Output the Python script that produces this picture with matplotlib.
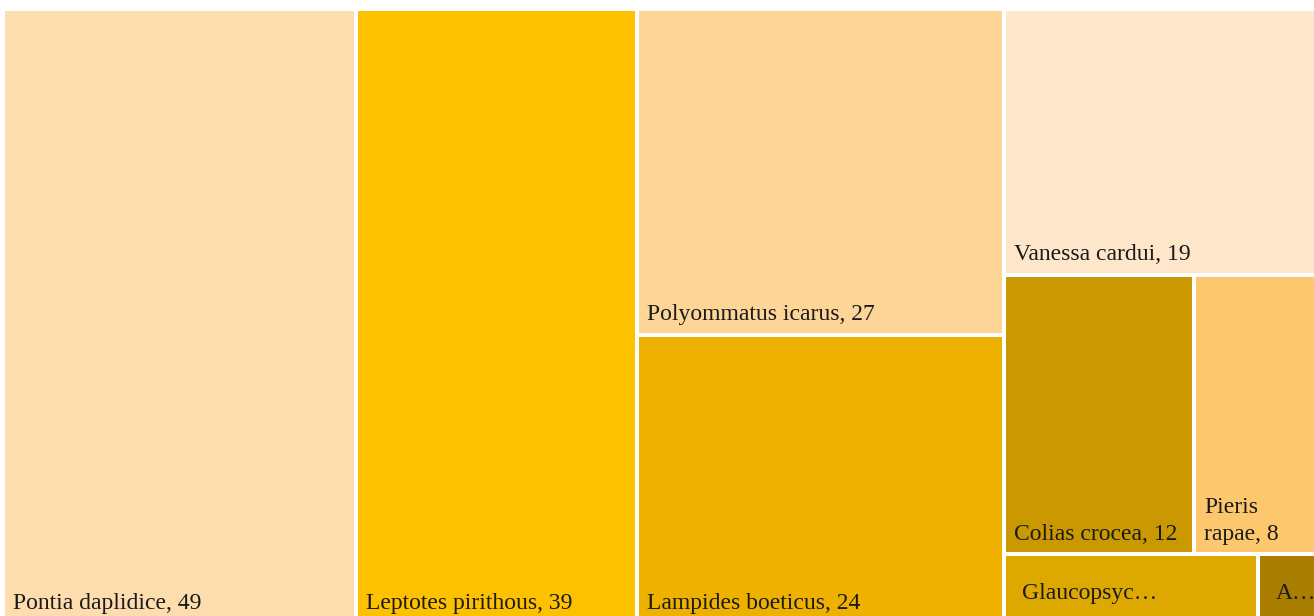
import matplotlib
matplotlib.use("Agg")
import matplotlib.pyplot as plt
from matplotlib.patches import Rectangle

# ---- data ----
labels = ["Pontia daplidice", "Leptotes pirithous", "Polyommatus icarus",
          "Lampides boeticus", "Vanessa cardui", "Colias crocea",
          "Pieris\nrapae", "Glaucopsyc…", "A…"]
values = [49, 39, 27, 24, 19, 12, 8, 4, 1]
show_value = [True, True, True, True, True, True, True, False, False]
colors = ["#FDDCAD", "#FDC100", "#FDD597", "#EFB100", "#FDE6C9",
          "#CA9800", "#FDC86D", "#DDA900", "#AA7E00"]
# layout grouping: columns -> rows -> items (indices into the lists above)
columns = [[[0]], [[1]], [[2], [3]], [[4], [5, 6], [7, 8]]]

W, H = 1314, 616
fig = plt.figure(figsize=(W / 100, H / 100), dpi=100)
ax = fig.add_axes([0, 0, 1, 1])
ax.set_xlim(0, W)
ax.set_ylim(H, 0)
ax.axis("off")

# outer area (extends slightly past the frame, like the cropped reference)
x0, y0, tw, th = 3, 9, 1318, 615
gap = 2
total = sum(values)
fs = 17
font = "Liberation Serif"

cx = x0
for col in columns:
    col_sum = sum(values[i] for row in col for i in row)
    cw = tw * col_sum / total
    cy = y0
    for row in col:
        row_sum = sum(values[i] for i in row)
        rh = th * row_sum / col_sum
        rx = cx
        for i in row:
            rw = cw * values[i] / row_sum
            ax.add_patch(Rectangle((rx + gap, cy + gap), rw - 2 * gap, rh - 2 * gap,
                                   facecolor=colors[i], edgecolor="none"))
            txt = labels[i] + (f", {values[i]}" if show_value[i] else "")
            if show_value[i]:
                ax.text(rx + gap + 8, cy + rh - gap - 12.5, txt, fontsize=fs,
                        family=font, color="#1a1a1a", ha="left", va="baseline",
                        linespacing=1.35)
            else:
                ax.text(rx + gap + 16, cy + rh / 2 + 4, txt, fontsize=fs,
                        family=font, color="#1a1a1a", ha="left", va="center")
            rx += rw
        cy += rh
    cx += cw

fig.savefig("out.png", dpi=100, facecolor="white")
